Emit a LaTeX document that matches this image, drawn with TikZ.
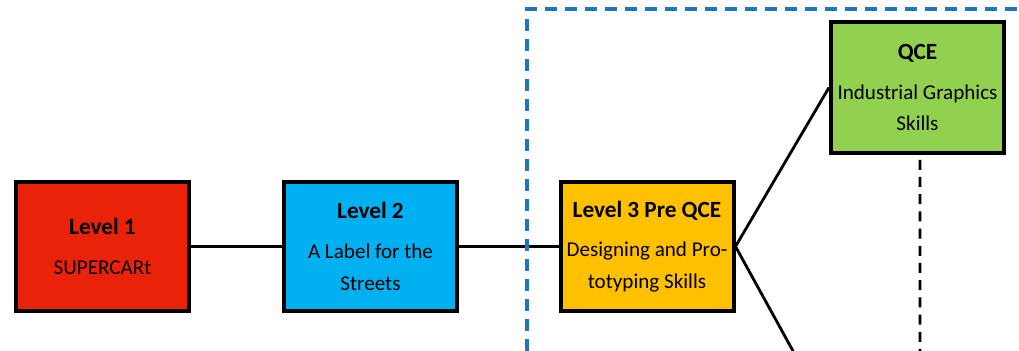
\documentclass[tikz,border=0pt]{standalone}
\usepackage{fontspec}
\setmainfont{Carlito}
\usepackage{tikz}
\usetikzlibrary{calc}
\definecolor{stufeRot}{RGB}{234,34,10}
\definecolor{stufeBlau}{RGB}{0,176,240}
\definecolor{stufeGelb}{RGB}{255,192,0}
\definecolor{stufeGruen}{RGB}{146,208,80}
\definecolor{rahmenBlau}{RGB}{31,117,190}
\tikzset{
  stufe/.style={draw=black, line width=0.1cm, minimum width=4.325cm, minimum height=3.225cm,
    align=center, font=\fontsize{15}{22.5}\selectfont},
  verbindung/.style={line width=2pt, black}
}
\newcommand{\ttl}[1]{{\fontsize{16.5}{20}\selectfont\bfseries #1}\\[0.2cm]}

\begin{document}
\begin{tikzpicture}
  \useasboundingbox (0,0) rectangle (25.475,8.775);
  \clip (0,0) rectangle (25.475,8.775);
  %Kaesten
  \node[stufe, fill=stufeRot] (L1) at (2.5625,2.6125) {\ttl{Level 1}SUPERCARt};
  \node[stufe, fill=stufeBlau] (L2) at (9.2625,2.6125) {\ttl{Level 2}A Label for the\\Streets};
  \node[stufe, fill=stufeGelb] (L3) at (16.175,2.6125) {\ttl{Level 3 Pre QCE}Designing and Pro-\\totyping Skills};
  \node[stufe, fill=stufeGruen, minimum height=3.275cm] (QCE) at (22.9375,6.5875) {\ttl{QCE}Industrial Graphics\\Skills};
  \coordinate (unten) at (20.5,-1.225);
  \coordinate (QCEunten) at (23.0,-1);

  %Verbindungen
  \draw[verbindung] (L1.east) -- (L2.west);
  \draw[verbindung] (L2.east) -- (L3.west);
  \draw[verbindung] (L3.east) -- (QCE.west);
  \draw[verbindung] (L3.east) -- (unten);
  %gestrichelte Linien
  \draw[verbindung, dash pattern=on 0.25cm off 0.18cm] ($(QCE.south)+(0.0625,-0.12)$) -- (QCEunten);
  \draw[rahmenBlau, line width=2.2pt, dash pattern=on 0.3cm off 0.2cm] (13.175,-1) -- (13.175,8.55) -- (26,8.55);
\end{tikzpicture}
\end{document}
